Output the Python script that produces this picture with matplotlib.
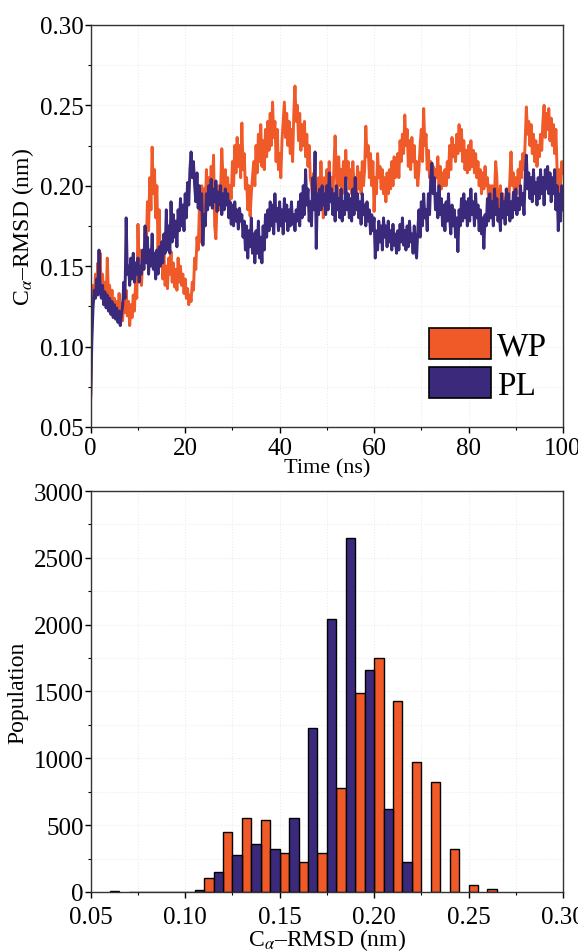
import numpy as np
import matplotlib
matplotlib.use("Agg")
import matplotlib.pyplot as plt
from matplotlib.patches import Patch
from matplotlib.ticker import MultipleLocator

plt.rcParams['font.family'] = ['Liberation Serif', 'DejaVu Serif']
plt.rcParams['mathtext.fontset'] = 'stix'

ORANGE = "#EF5A28"
PURPLE = "#3B2A7C"

# RMSD time series in 1e-3 nm, one value every 0.25 ns
wp_milli = [
    68, 120, 138, 130, 145, 135, 152, 140, 158, 132, 145, 128, 140, 126, 155, 132, 138, 124, 135, 122,
    130, 120, 128, 118, 133, 120, 127, 116, 130, 121, 135, 119, 128, 113, 126, 118, 132, 122, 140, 130,
    176, 145, 160, 138, 155, 148, 170, 160, 190, 172, 205, 185, 224, 195, 210, 180, 200, 160, 185, 150,
    165, 142, 158, 138, 150, 136, 155, 145, 159, 140, 152, 137, 148, 135, 155, 140, 150, 138, 145, 133,
    142, 130, 136, 126, 132, 128, 140, 135, 155, 148, 168, 160, 185, 165, 200, 180, 198, 186, 210, 192,
    205, 190, 212, 195, 219, 175, 167, 190, 200, 185, 198, 223, 205, 190, 210, 195, 205, 188, 200, 192,
    215, 200, 225, 208, 230, 212, 225, 205, 239, 210, 220, 198, 205, 185, 200, 181, 195, 205, 215, 200,
    225, 208, 232, 215, 238, 212, 228, 210, 235, 218, 240, 222, 245, 225, 252, 230, 240, 215, 235, 210,
    220, 205, 228, 240, 252, 230, 245, 225, 240, 220, 235, 215, 245, 262, 240, 250, 228, 245, 222, 238,
    225, 240, 218, 232, 212, 225, 205, 200, 192, 208, 188, 200, 183, 205, 192, 215, 196, 180, 205, 190,
    210, 192, 215, 198, 205, 190, 212, 231, 208, 192, 218, 200, 210, 195, 215, 200, 222, 205, 215, 198,
    210, 195, 215, 200, 205, 192, 212, 198, 208, 195, 215, 200, 210, 237, 218, 225, 205, 220, 200, 215,
    184, 205, 195, 220, 205, 212, 198, 210, 195, 205, 190, 208, 195, 210, 198, 215, 200, 218, 205, 212,
    220, 205, 228, 215, 232, 220, 244, 225, 235, 212, 228, 210, 230, 215, 225, 205, 215, 200, 210, 225,
    235, 215, 248, 225, 232, 210, 222, 205, 215, 200, 212, 198, 210, 205, 218, 200, 212, 198, 208, 200,
    210, 200, 215, 205, 225, 210, 230, 218, 225, 215, 232, 220, 238, 222, 235, 215, 228, 210, 222, 208,
    225, 210, 228, 212, 222, 208, 220, 205, 215, 200, 210, 195, 208, 198, 212, 200, 205, 192, 200, 188,
    200, 185, 195, 215, 205, 178, 190, 200, 185, 195, 180, 192, 185, 198, 188, 205, 221, 200, 208, 192,
    205, 195, 210, 200, 215, 205, 220, 210, 228, 249, 232, 240, 225, 238, 220, 232, 215, 228, 212, 225,
    218, 232, 222, 240, 250, 230, 245, 235, 248, 228, 242, 225, 238, 220, 235, 210, 196, 210, 200, 215,
    208,
]
pl_milli = [
    70, 105, 125, 135, 130, 142, 132, 160, 135, 130, 138, 126, 134, 124, 132, 122, 130, 120, 128, 118,
    126, 117, 124, 115, 122, 113, 120, 125, 140, 130, 180, 145, 150, 138, 155, 142, 158, 140, 152, 145,
    155, 140, 150, 145, 160, 148, 175, 152, 168, 145, 160, 150, 170, 148, 158, 142, 160, 145, 162, 150,
    165, 152, 170, 158, 185, 160, 175, 158, 190, 165, 182, 168, 178, 162, 185, 172, 192, 175, 188, 172,
    195, 180, 202, 188, 210, 221, 205, 215, 200, 190, 208, 186, 200, 185, 195, 163, 182, 175, 195, 185,
    200, 188, 204, 186, 198, 190, 203, 184, 196, 188, 200, 182, 195, 185, 198, 188, 195, 180, 190, 176,
    188, 175, 190, 178, 185, 173, 186, 178, 182, 168, 178, 160, 175, 155, 172, 162, 180, 158, 170, 152,
    172, 158, 178, 155, 168, 152, 175, 160, 182, 168, 185, 172, 190, 175, 188, 170, 195, 178, 186, 172,
    190, 175, 185, 170, 192, 178, 188, 172, 185, 175, 190, 176, 182, 172, 185, 178, 190, 175, 195, 180,
    200, 182, 210, 188, 198, 178, 190, 175, 205, 185, 221, 161, 195, 182, 198, 185, 200, 188, 195, 182,
    200, 185, 208, 190, 198, 182, 195, 178, 200, 185, 192, 180, 198, 178, 190, 182, 205, 185, 195, 180,
    192, 178, 198, 182, 205, 185, 195, 180, 190, 176, 195, 182, 188, 175, 190, 178, 185, 170, 182, 172,
    180, 155, 172, 160, 178, 165, 175, 160, 180, 168, 175, 162, 178, 165, 172, 160, 176, 163, 170, 158,
    172, 160, 176, 165, 180, 163, 172, 160, 175, 162, 178, 165, 170, 158, 175, 162, 155, 172, 185, 168,
    190, 175, 195, 180, 185, 172, 195, 182, 205, 214, 195, 205, 185, 195, 180, 200, 182, 192, 175, 188,
    172, 190, 178, 195, 180, 170, 188, 175, 185, 168, 180, 159, 185, 175, 192, 178, 195, 180, 190, 175,
    192, 178, 198, 182, 190, 175, 195, 180, 188, 172, 185, 170, 180, 161, 182, 175, 192, 178, 195, 180,
    190, 175, 198, 182, 192, 178, 185, 172, 195, 180, 190, 176, 198, 182, 195, 178, 190, 180, 196, 185,
    198, 182, 192, 185, 200, 188, 195, 182, 205, 219, 198, 208, 192, 205, 190, 210, 195, 202, 188, 205,
    192, 210, 195, 205, 188, 210, 198, 212, 195, 208, 190, 205, 195, 210, 185, 200, 172, 195, 178, 200,
    185,
]
wp_rmsd = np.array(wp_milli) / 1000.0
pl_rmsd = np.array(pl_milli) / 1000.0
time_ns = np.arange(len(wp_rmsd)) * 0.25

# histogram: left edges of 0.005 nm bars and their populations
wp_bins = [0.07, 0.08, 0.09, 0.10, 0.11, 0.12, 0.13, 0.14, 0.15, 0.16, 0.17,
           0.18, 0.19, 0.20, 0.21, 0.22, 0.23, 0.24, 0.25, 0.26]
wp_counts = [2, 2, 2, 3, 105, 448, 553, 535, 294, 224, 294,
             779, 1489, 1748, 1429, 976, 826, 321, 55, 20]
pl_bins = [0.060, 0.075, 0.085, 0.095, 0.105, 0.115, 0.125, 0.135, 0.145,
           0.155, 0.165, 0.175, 0.185, 0.195, 0.205, 0.215]
pl_counts = [6, 3, 3, 3, 15, 147, 279, 356, 321,
             555, 1227, 2039, 2651, 1660, 620, 224]

fig = plt.figure(figsize=(5.78, 9.53), dpi=100)
ax1 = fig.add_axes([0.157, 0.551, 0.817, 0.4218])
ax2 = fig.add_axes([0.157, 0.063, 0.817, 0.4207])

# --- top: RMSD vs time
ax1.plot(time_ns, wp_rmsd, color=ORANGE, lw=2.1)
ax1.plot(time_ns, pl_rmsd, color=PURPLE, lw=2.1)
ax1.set_xlim(0, 100)
ax1.set_ylim(0.05, 0.30)
ax1.xaxis.set_major_locator(MultipleLocator(20))
ax1.xaxis.set_minor_locator(MultipleLocator(10))
ax1.yaxis.set_major_locator(MultipleLocator(0.05))
ax1.yaxis.set_minor_locator(MultipleLocator(0.025))
ax1.yaxis.set_major_formatter(plt.FormatStrFormatter('%.2f'))
ax1.set_xlabel("Time (ns)", fontsize=16, labelpad=0)
ax1.set_ylabel(r"C$_{\alpha}$–RMSD (nm)", fontsize=17, labelpad=3)

handles = [Patch(facecolor=ORANGE, edgecolor='black', lw=1.2, label='WP'),
           Patch(facecolor=PURPLE, edgecolor='black', lw=1.2, label='PL')]
ax1.legend(handles=handles, loc='lower left', bbox_to_anchor=(0.716, 0.065),
           frameon=False, fontsize=24, handlelength=1.85, handleheight=1.05,
           labelspacing=0.15, handletextpad=0.2, borderpad=0, borderaxespad=0)

# --- bottom: RMSD distribution
ax2.bar(wp_bins, wp_counts, width=0.005, align='edge', color=ORANGE,
        edgecolor='black', lw=1.0)
ax2.bar(pl_bins, pl_counts, width=0.005, align='edge', color=PURPLE,
        edgecolor='black', lw=1.0)
ax2.set_xlim(0.05, 0.30)
ax2.set_ylim(0, 3000)
ax2.xaxis.set_major_locator(MultipleLocator(0.05))
ax2.xaxis.set_minor_locator(MultipleLocator(0.025))
ax2.xaxis.set_major_formatter(plt.FormatStrFormatter('%.2f'))
ax2.yaxis.set_major_locator(MultipleLocator(500))
ax2.yaxis.set_minor_locator(MultipleLocator(250))
ax2.set_xlabel(r"C$_{\alpha}$–RMSD (nm)", fontsize=17, labelpad=-1)
ax2.set_ylabel("Population", fontsize=17, labelpad=4)

for ax in (ax1, ax2):
    ax.tick_params(which='major', direction='out', length=4, width=1.0,
                   labelsize=18, pad=1)
    ax.tick_params(axis='x', which='major', pad=3)
    ax.tick_params(which='minor', direction='out', length=2.5, width=0.8)
    ax.grid(True, which='both', color='#ececec', ls=':', lw=0.8)
    ax.set_axisbelow(True)
    for s in ax.spines.values():
        s.set_linewidth(1.0)
        s.set_color('#333333')
ax2.tick_params(axis='x', which='major', pad=6)

fig.savefig("out.png", dpi=100)
